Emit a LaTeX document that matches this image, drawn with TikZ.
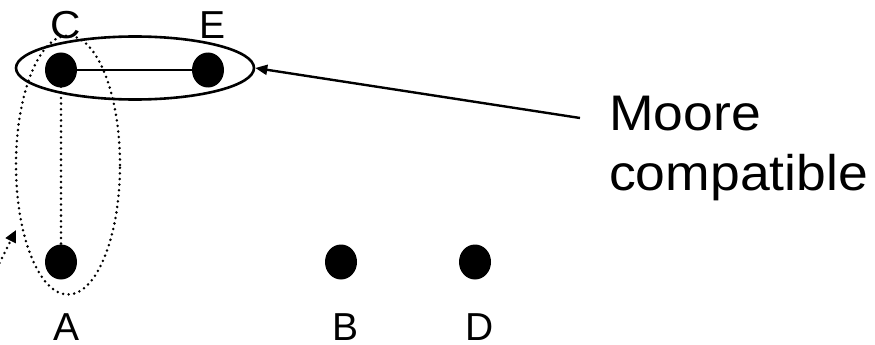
\documentclass[tikz,border=0pt]{standalone}
\usepackage{fontspec}
\setmainfont{Liberation Sans}
\usetikzlibrary{shapes.geometric,arrows.meta,calc}
\begin{document}
\begin{tikzpicture}[x=1pt,y=-1pt,
  vertex/.style={ellipse,fill=black,draw=none,minimum width=32pt,minimum height=35pt,inner sep=0pt},
  lbl/.style={anchor=base,inner sep=0pt,font=\fontsize{39}{44}\selectfont},
  dotline/.style={line width=2.8pt,line cap=round,dash pattern=on 0pt off 5.6pt},
  grp/.style={ellipse,draw,inner sep=0pt}]
\useasboundingbox (0,0) rectangle (875,345);
% dots
\node[vertex] (C) at (61,70) {};
\node[vertex] (E) at (208,70) {};
\node[vertex] (A) at (61,262) {};
\node[vertex] (B) at (341,262) {};
\node[vertex] (D) at (475,262) {};
% labels
\node[lbl] (lC) at (66,38) {\scalebox{1.08}[1]{C}};
\node[lbl] (lE) at (213,38) {E};
\node[lbl] (lA) at (67,340) {A};
\node[lbl] (lB) at (346,340) {B};
\node[lbl] (lD) at (480,340) {D};
% edges
\draw[line width=2pt] (C) -- (E);
\draw[dotline] (C.center) -- (A.center);
% groups
\node[grp,line width=2.6pt,minimum width=238pt,minimum height=63pt] (g1) at (135,68) {};
\node[grp,dotline,minimum width=104pt,minimum height=259pt] (g2) at (68,165) {};
% Moore compatible
\node[anchor=base west,inner sep=0pt,align=left,font=\fontsize{50}{60}\selectfont] (txt) at (609,190) {\scalebox{1.07}[1]{Moore}\\\scalebox{1.07}[1]{compatible}};
\coordinate (tail1) at (580,118);
\draw[line width=2.4pt,-{Triangle[length=12pt,width=10pt]}] (tail1) -- (g1.east);
% dotted arrow
\coordinate (tail2) at (-3,268);
\coordinate (tip2) at (16,230);
\draw[dotline,-{Triangle[length=12pt,width=11pt]}] (tail2) -- (tip2);
\end{tikzpicture}
\end{document}
